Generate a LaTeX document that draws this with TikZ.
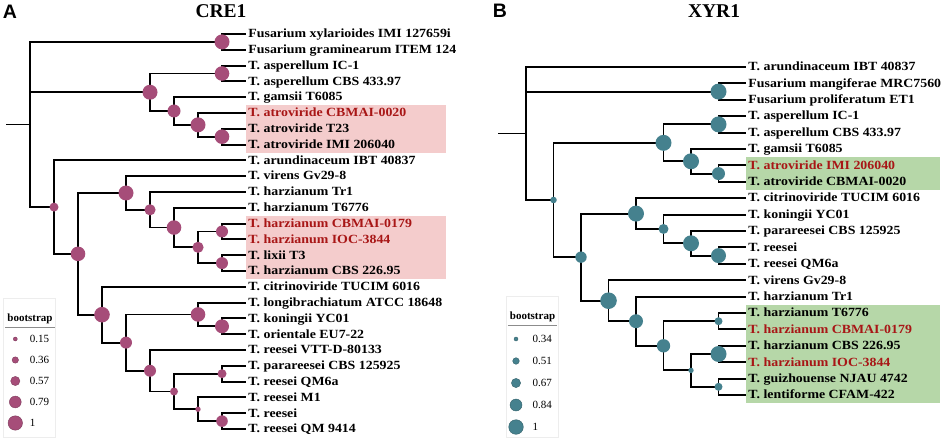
\documentclass[tikz,border=0pt]{standalone}
\usepackage{fontspec}
\newfontfamily\treefont{Liberation Serif}[FakeStretch=1.11]
\newfontfamily\titlefont{Liberation Serif}
\newfontfamily\panelfont{Liberation Sans}
\definecolor{bsA}{HTML}{A64D79}
\definecolor{bsB}{HTML}{45818E}
\definecolor{hlA}{HTML}{F4CCCC}
\definecolor{hlB}{HTML}{B6D7A8}
\definecolor{strain}{HTML}{A81616}

\begin{document}
\begin{tikzpicture}
  [x=1pt,y=-1pt,line width=1.9pt,
   leaf/.style={anchor=west,inner xsep=1.5pt,inner ysep=0pt,text height=9pt,text depth=1.4pt,
     font=\treefont\bfseries\fontsize{12.5}{13}\selectfont},
   ourleaf/.style={leaf,text=strain},
   title/.style={font=\titlefont\bfseries\fontsize{19.5}{21}\selectfont},
   panel/.style={font=\panelfont\bfseries\fontsize{19.5}{21}\selectfont},
   legtitle/.style={inner xsep=1pt,inner ysep=2pt,font=\titlefont\bfseries\fontsize{11}{12}\selectfont},
   legtxt/.style={anchor=west,inner sep=0pt,font=\titlefont\fontsize{11}{12}\selectfont},
   legframe/.style={draw=black!7,line width=.6pt}]
  \useasboundingbox (0,0) rectangle (941,438);

  % ---- panel A : CRE1
  \node[panel] (panelA) at (10,12) {A};
  \node[title] (titleA) at (221,11) {CRE1};
  \fill[hlA] (246,105.4) rectangle (446,152.6);
  \fill[hlA] (246,215.8) rectangle (446,278.8);

  \foreach \txt/\sty [count=\i] in {Fusarium xylarioides IMI 127659i/leaf,
    Fusarium graminearum ITEM 124/leaf, T. asperellum IC-1/leaf,
    T. asperellum CBS 433.97/leaf, T. gamsii T6085/leaf,
    T. atroviride CBMAI-0020/ourleaf, T. atroviride T23/leaf,
    T. atroviride IMI 206040/leaf, T. arundinaceum IBT 40837/leaf,
    T. virens Gv29-8/leaf, T. harzianum Tr1/leaf, T. harzianum T6776/leaf,
    T. harzianum CBMAI-0179/ourleaf, T. harzianum IOC-3844/ourleaf,
    T. lixii T3/leaf, T. harzianum CBS 226.95/leaf,
    T. citrinoviride TUCIM 6016/leaf, T. longibrachiatum ATCC 18648/leaf,
    T. koningii YC01/leaf, T. orientale EU7-22/leaf,
    T. reesei VTT-D-80133/leaf, T. parareesei CBS 125925/leaf,
    T. reesei QM6a/leaf, T. reesei M1/leaf, T. reesei/leaf,
    T. reesei QM 9414/leaf}
    \node[\sty] (la\i) at (246,{34+(\i-1)*15.8}) {\txt};

  \coordinate (rootA) at (6,124.5);
  \coordinate (A0) at (30,124.5);
  \coordinate (A1) at (222,41.9);
  \coordinate (A2) at (150,92.25);
  \coordinate (A3) at (54,207.1);
  \coordinate (A4) at (222,73.5);
  \coordinate (A5) at (174,111);
  \coordinate (A6) at (198,124.85);
  \coordinate (A7) at (222,136.7);
  \coordinate (A8) at (78,253.85);
  \coordinate (A9) at (126,193);
  \coordinate (A10) at (102,314.7);
  \coordinate (A11) at (150,209.8);
  \coordinate (A12) at (174,227.55);
  \coordinate (A13) at (198,247.3);
  \coordinate (A14) at (222,231.5);
  \coordinate (A15) at (222,263.1);
  \coordinate (A16) at (126,342.6);
  \coordinate (A17) at (198,314.45);
  \coordinate (A18) at (150,370.75);
  \coordinate (A19) at (222,326.3);
  \coordinate (A20) at (174,391.5);
  \coordinate (A21) at (222,373.7);
  \coordinate (A22) at (198,409.25);
  \coordinate (A23) at (222,421.1);

  \draw (rootA) -- (A0);
  \foreach \from/\to in {A0/A1,A0/A2,A0/A3,A1/la1.west,A1/la2.west,A2/A4,A2/A5,
    A4/la3.west,A4/la4.west,A5/la5.west,A5/A6,A6/la6.west,A6/A7,A7/la7.west,
    A7/la8.west,A3/la9.west,A3/A8,A8/A9,A8/A10,A9/la10.west,A9/A11,
    A11/la11.west,A11/A12,A12/la12.west,A12/A13,A13/A14,A13/A15,
    A14/la13.west,A14/la14.west,A15/la15.west,A15/la16.west,A10/la17.west,
    A10/A16,A16/A17,A16/A18,A17/la18.west,A17/A19,A19/la19.west,
    A19/la20.west,A18/la21.west,A18/A20,A20/A21,A20/A22,A21/la22.west,
    A21/la23.west,A22/la24.west,A22/A23,A23/la25.west,A23/la26.west}
    \draw (\from) |- (\to);

  \foreach \n/\r in {A1/7.5pt,A2/7.5pt,A3/4.5pt,A4/7.3pt,A5/6.5pt,A6/7.5pt,
    A7/7.3pt,A8/7.3pt,A9/7.5pt,A10/7.8pt,A11/5.6pt,A12/7.3pt,A13/5.6pt,
    A14/6pt,A15/6pt,A16/6pt,A17/7.3pt,A18/6pt,A19/7pt,A20/4pt,A21/4.5pt,
    A22/2.7pt,A23/5.8pt}
    \fill[bsA] (\n) circle (\r);

  \draw[legframe] (3,298) rectangle (55,437);
  \node[legtitle] (lgA) at (30,319) {bootstrap};
  \draw[black!45,line width=.6pt] (lgA.south west) -- (lgA.south east);
  \foreach \v/\r [count=\i] in {0.15/2pt,0.36/3.2pt,0.57/4.6pt,0.79/5.9pt,1/7.2pt}{
    \filldraw[fill=bsA,draw=bsA!75!black,line width=.4pt] (15.3,{339+(\i-1)*21}) circle (\r);
    \node[legtxt] (lva\i) at (29,{339+(\i-1)*21}) {\v};
  }

  % ---- panel B : XYR1
  \node[panel] (panelB) at (500,11) {B};
  \node[title] (titleB) at (714,11) {XYR1};
  \fill[hlB] (746,157.2) rectangle (940,190);
  \fill[hlB] (746,304.8) rectangle (940,403.2);

  \foreach \txt/\sty [count=\i] in {T. arundinaceum IBT 40837/leaf,
    Fusarium mangiferae MRC7560/leaf, Fusarium proliferatum ET1/leaf,
    T. asperellum IC-1/leaf, T. asperellum CBS 433.97/leaf,
    T. gamsii T6085/leaf, T. atroviride IMI 206040/ourleaf,
    T. atroviride CBMAI-0020/leaf, T. citrinoviride TUCIM 6016/leaf,
    T. koningii YC01/leaf, T. parareesei CBS 125925/leaf, T. reesei/leaf,
    T. reesei QM6a/leaf, T. virens Gv29-8/leaf, T. harzianum Tr1/leaf,
    T. harzianum T6776/leaf, T. harzianum CBMAI-0179/ourleaf,
    T. harzianum CBS 226.95/leaf, T. harzianum IOC-3844/ourleaf,
    T. guizhouense NJAU 4742/leaf, T. lentiforme CFAM-422/leaf}
    \node[\sty] (lb\i) at (746,{67+(\i-1)*16.4}) {\txt};

  \coordinate (rootB) at (498,133.5);
  \coordinate (B0) at (526,133.5);
  \coordinate (B1) at (718.5,91.6);
  \coordinate (B2) at (553.5,200);
  \coordinate (B3) at (663.5,142.85);
  \coordinate (B4) at (581,257.15);
  \coordinate (B5) at (718.5,124.4);
  \coordinate (B6) at (691,161.3);
  \coordinate (B7) at (718.5,173.6);
  \coordinate (B8) at (636,213.6);
  \coordinate (B9) at (608.5,300.7);
  \coordinate (B10) at (663.5,228.95);
  \coordinate (B11) at (691,243.3);
  \coordinate (B12) at (718.5,255.6);
  \coordinate (B13) at (636,321.2);
  \coordinate (B14) at (663.5,345.8);
  \coordinate (B15) at (718.5,321.2);
  \coordinate (B16) at (691,370.4);
  \coordinate (B17) at (718.5,354);
  \coordinate (B18) at (718.5,386.8);

  \draw (rootB) -- (B0);
  \foreach \from/\to in {B0/lb1.west,B0/B1,B0/B2,B1/lb2.west,B1/lb3.west,
    B2/B3,B2/B4,B3/B5,B3/B6,B5/lb4.west,B5/lb5.west,B6/lb6.west,B6/B7,
    B7/lb7.west,B7/lb8.west,B4/B8,B4/B9,B8/lb9.west,B8/B10,B10/lb10.west,
    B10/B11,B11/lb11.west,B11/B12,B12/lb12.west,B12/lb13.west,B9/lb14.west,
    B9/B13,B13/lb15.west,B13/B14,B14/B15,B14/B16,B15/lb16.west,
    B15/lb17.west,B16/B17,B16/B18,B17/lb18.west,B17/lb19.west,
    B18/lb20.west,B18/lb21.west}
    \draw (\from) |- (\to);

  \foreach \n/\r in {B1/8pt,B2/3.3pt,B3/8pt,B4/5.7pt,B5/8pt,B6/8pt,B7/6.5pt,
    B8/8pt,B9/8.3pt,B10/5pt,B11/8pt,B12/7.5pt,B13/7pt,B14/6.7pt,B15/4pt,
    B16/2.7pt,B17/8pt,B18/4pt}
    \fill[bsB] (\n) circle (\r);

  \draw[legframe] (506,296) rectangle (558,437);
  \node[legtitle] (lgB) at (532.5,317) {bootstrap};
  \draw[black!45,line width=.6pt] (lgB.south west) -- (lgB.south east);
  \foreach \v/\r [count=\i] in {0.34/2pt,0.51/3.3pt,0.67/4.6pt,0.84/6pt,1/7.3pt}{
    \filldraw[fill=bsB,draw=bsB!75!black,line width=.4pt] (516,{339+(\i-1)*22}) circle (\r);
    \node[legtxt] (lvb\i) at (531.7,{339+(\i-1)*22}) {\v};
  }
\end{tikzpicture}
\end{document}
